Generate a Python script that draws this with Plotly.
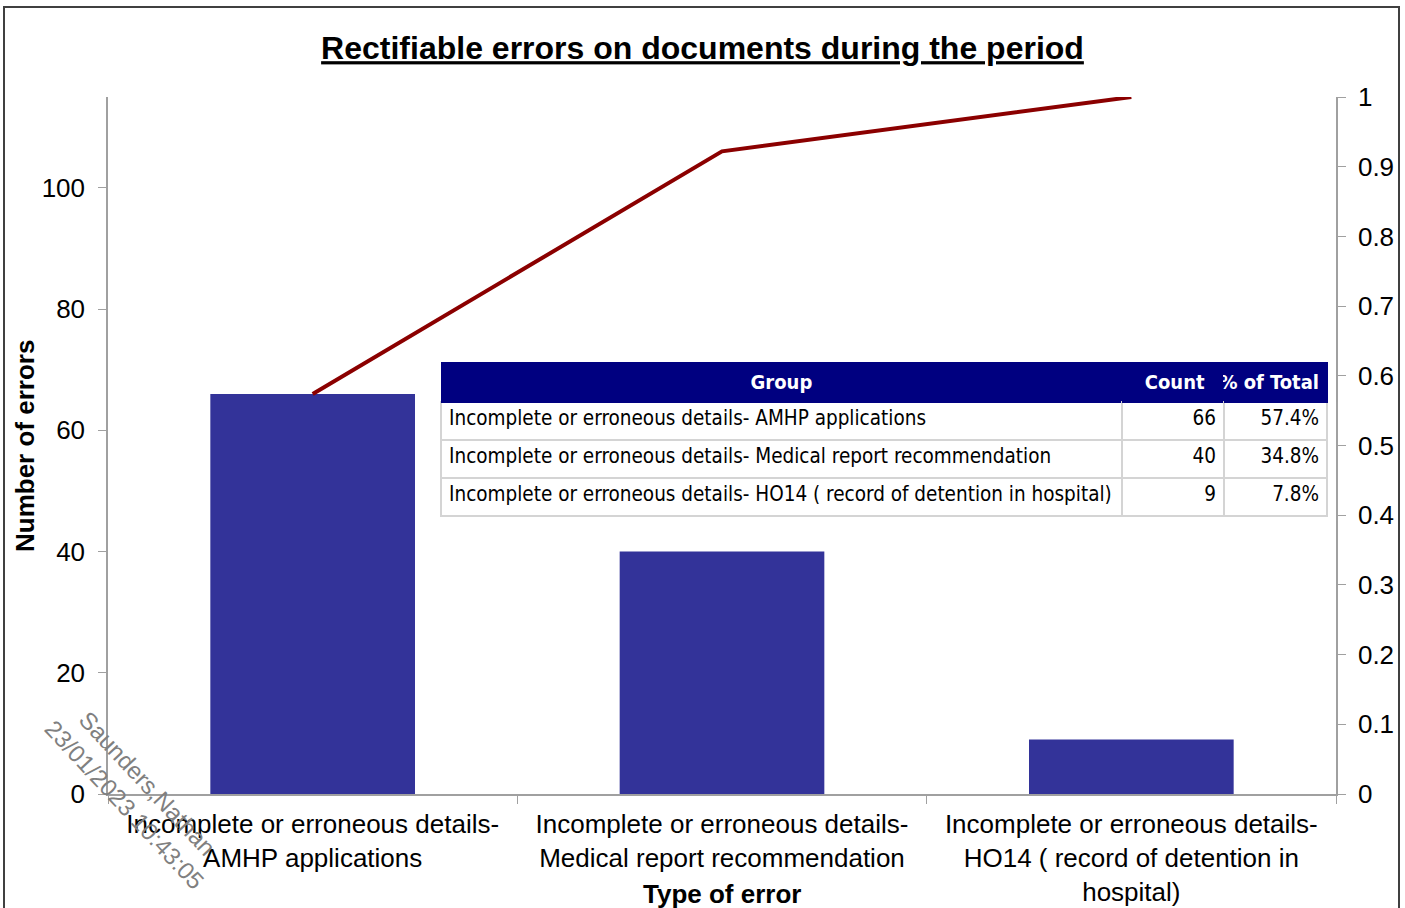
import plotly.graph_objects as go

categories = [
    "Incomplete or erroneous details-<br>AMHP applications",
    "Incomplete or erroneous details-<br>Medical report recommendation",
    "Incomplete or erroneous details-<br>HO14 ( record of detention in<br>hospital)",
]
table_groups = [
    "Incomplete or erroneous details- AMHP applications",
    "Incomplete or erroneous details- Medical report recommendation",
    "Incomplete or erroneous details- HO14 ( record of detention in hospital)",
]
counts = [66, 40, 9]
cumulative = [0.574, 0.922, 1.0]
pct_total = ["57.4%", "34.8%", "7.8%"]
table_headers = ["Group", "Count", "% of Total"]
left_ticks = [0, 20, 40, 60, 80, 100]
right_ticks = [0, 0.1, 0.2, 0.3, 0.4, 0.5, 0.6, 0.7, 0.8, 0.9, 1]

W, H = 1405, 908
L, R, T, B = 108, 69, 97, 114
pw, ph = W - L - R, H - T - B

def px_x(x):
    return (x - L) / pw

def px_y(y):
    return (H - B - y) / ph

def nb(s):
    # keep each table cell on one line
    return str(s).replace(" ", "\u00a0")

FONT = "Liberation Sans, Arial, sans-serif"
NARROW = "DejaVu Sans Condensed, Arial Narrow, Liberation Sans, sans-serif"
AXC = "#a0a0a0"

fig = go.Figure()
fig.add_trace(go.Bar(x=categories, y=counts, marker=dict(color="#333399", line=dict(width=0)),
                     width=0.5, xaxis="x", yaxis="y", showlegend=False, hoverinfo="skip"))
fig.add_trace(go.Scatter(x=categories, y=cumulative, mode="lines",
                         line=dict(color="#8b0000", width=4), xaxis="x", yaxis="y2",
                         showlegend=False, cliponaxis=False, hoverinfo="skip"))

header_vals = ["<b>%s</b>" % nb(table_headers[0]),
               "<b>%s</b>\u00a0\u00a0" % nb(table_headers[1]),
               "<b>%s</b>" % nb(table_headers[2])]
fig.add_trace(go.Table(
    domain=dict(x=[px_x(441), px_x(1327)], y=[px_y(522), px_y(362)]),
    columnwidth=[681, 102, 103],
    header=dict(values=header_vals,
                fill_color="#000080", line=dict(color="#000080", width=1),
                font=dict(color="white", size=20, family=NARROW),
                align=["center", "right", "right"], height=38),
    cells=dict(values=[[nb(g) for g in table_groups], counts, pct_total],
               fill_color="white", line=dict(color="#d4d4d4", width=2),
               font=dict(color="black", size=20.5, family=NARROW),
               align=["left", "right", "right"], height=38),
))

fig.update_layout(
    width=W, height=H,
    margin=dict(l=L, r=R, t=T, b=B),
    paper_bgcolor="white", plot_bgcolor="white",
    font=dict(family=FONT, color="black", size=26),
    title=dict(text="<b><u>Rectifiable errors on documents during the period</u></b>",
               x=0.5, xanchor="center", y=1 - 48 / H, yanchor="middle",
               font=dict(size=32, family=FONT)),
    xaxis=dict(showline=True, linecolor=AXC, linewidth=1.5, ticks="outside", tickcolor=AXC,
               ticklen=8, tickson="boundaries", showgrid=False, automargin=False,
               ticklabelstandoff=6, tickfont=dict(size=26)),
    yaxis=dict(range=[0, 115], tickvals=left_ticks, showline=True, linecolor=AXC, linewidth=1.5,
               ticks="outside", tickcolor=AXC, ticklen=8, showgrid=False, zeroline=False,
               automargin=False, ticklabelstandoff=8, tickfont=dict(size=26)),
    yaxis2=dict(range=[0, 1], tickvals=right_ticks, overlaying="y", side="right",
                showline=True, linecolor=AXC, linewidth=1.5, ticks="outside", tickcolor=AXC,
                ticklen=8, showgrid=False, zeroline=False, automargin=False,
                ticklabelstandoff=7, tickfont=dict(size=26)),
    bargap=0.5,
)

fig.add_annotation(text="<b>Type of error</b>", xref="paper", yref="paper",
                   x=px_x(722), y=px_y(894), xanchor="center", yanchor="middle",
                   showarrow=False, font=dict(size=26, family=FONT))
fig.add_annotation(text="<b>Number of errors</b>", xref="paper", yref="paper",
                   x=px_x(25), y=px_y(446), xanchor="center", yanchor="middle",
                   textangle=-90, showarrow=False, font=dict(size=26, family=FONT))

fig.add_shape(type="rect", xref="paper", yref="paper",
              x0=px_x(4), x1=px_x(1399), y0=px_y(930), y1=px_y(7),
              line=dict(color="#404040", width=2), fillcolor="rgba(0,0,0,0)", layer="above")

fig.add_annotation(text="Saunders,Nathan<br>23/01/2023 10:43:05", xref="paper", yref="paper",
                   x=px_x(136), y=px_y(794), xanchor="center", yanchor="middle",
                   showarrow=False, textangle=47,
                   font=dict(size=24, color="#808080", family=FONT), align="center")

fig.write_html("out.html", config={"displayModeBar": False},
               post_script="document.body.style.margin='0px';")
